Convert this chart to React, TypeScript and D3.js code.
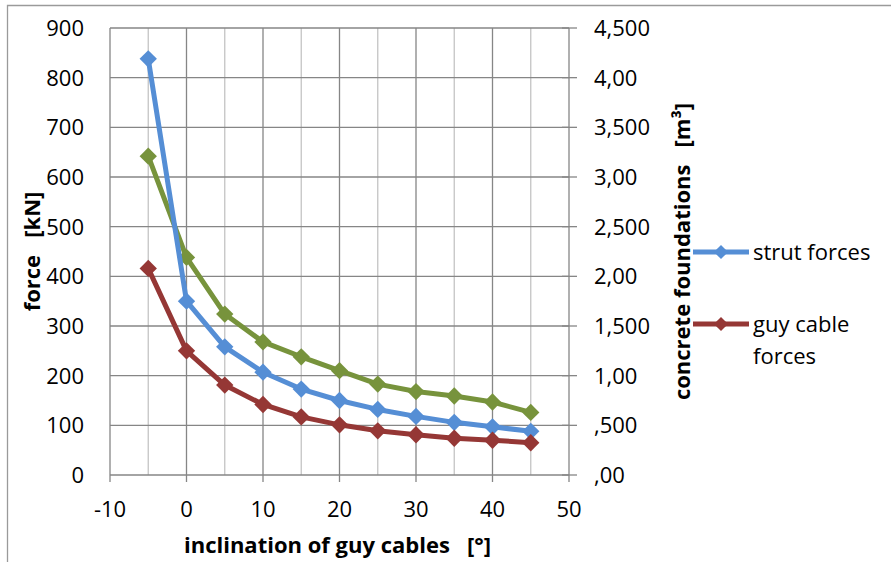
import { useMemo } from "react";
import * as d3 from "d3";

// inclination of guy cables [°]
const inclinations = [-5, 0, 5, 10, 15, 20, 25, 30, 35, 40, 45];
// left axis, force [kN]
const strutForces = [838, 350, 258, 207, 173, 150, 132, 118, 106, 97, 88];
const guyCableForces = [416, 250, 181, 142, 117, 101, 89, 81, 74, 70, 65];
// right axis, concrete foundations [m³]
const concreteVolumes = [3.21, 2.19, 1.62, 1.34, 1.19, 1.05, 0.915, 0.84, 0.795, 0.735, 0.63];

const xTicks = [-10, 0, 10, 20, 30, 40, 50];
const xMinorTicks = [-5, 5, 15, 25, 35, 45];
const leftTicks = [0, 100, 200, 300, 400, 500, 600, 700, 800, 900];
const rightTicks = [0, 0.5, 1, 1.5, 2, 2.5, 3, 3.5, 4, 4.5];
const rightTickLabels = [",00", ",500", "1,00", "1,500", "2,00", "2,500", "3,00", "3,500", "4,00", "4,500"];

const FONT = "'Open Sans', sans-serif";
const gridDark = "#868686";
const gridLight = "#c4c4c4";

export default function App() {
  const width = 891;
  const height = 562;
  const plot = { left: 110, right: 569, top: 28, bottom: 475 };

  const x = useMemo(() => d3.scaleLinear().domain([-10, 50]).range([plot.left, plot.right]), []);
  const yLeft = useMemo(() => d3.scaleLinear().domain([0, 900]).range([plot.bottom, plot.top]), []);
  const yRight = useMemo(() => d3.scaleLinear().domain([0, 4.5]).range([plot.bottom, plot.top]), []);

  const series = [
    { name: "concrete", color: "#77933c", values: concreteVolumes, y: yRight },
    { name: "strut forces", color: "#558ed5", values: strutForces, y: yLeft },
    { name: "guy cable forces", color: "#953735", values: guyCableForces, y: yLeft },
  ];

  const diamond = d3.symbol(d3.symbolSquare, 150)()!;
  const legendDiamond = d3.symbol(d3.symbolSquare, 100)()!;

  const legend = [
    { label: ["strut forces"], color: "#558ed5", y: 252 },
    { label: ["guy cable", "forces"], color: "#953735", y: 324 },
  ];

  return (
    <svg
      width={width}
      height={height}
      viewBox={`0 0 ${width} ${height}`}
      style={{ position: "absolute", left: 0, top: 0, background: "#fff" }}
      fontFamily={FONT}
    >
      <rect x={0} y={0} width={width} height={height} fill="#fff" />
      <path d={`M7.5,${height} V5.5 H${width}`} fill="none" stroke="#9a9a9a" strokeWidth={1.3} />

      {/* grid */}
      {xMinorTicks.map((t) => (
        <line key={`vm${t}`} x1={x(t)} x2={x(t)} y1={plot.top} y2={plot.bottom} stroke={gridLight} strokeWidth={1.3} />
      ))}
      {xTicks.map((t) => (
        <line key={`vx${t}`} x1={x(t)} x2={x(t)} y1={plot.top} y2={plot.bottom + 7} stroke={gridDark} strokeWidth={1.3} />
      ))}
      {leftTicks.map((t) => (
        <line key={`h${t}`} x1={plot.left} x2={plot.right} y1={yLeft(t)} y2={yLeft(t)} stroke={gridDark} strokeWidth={1.3} />
      ))}
      {rightTicks.map((t) => (
        <line key={`rt${t}`} x1={plot.right - 7} x2={plot.right + 8} y1={yRight(t)} y2={yRight(t)} stroke={gridDark} strokeWidth={1.3} />
      ))}

      {/* tick labels */}
      {leftTicks.map((t) => (
        <text key={`lt${t}`} x={84} y={yLeft(t)} dy="0.36em" textAnchor="end" fontSize={22} fill="#000">
          {t}
        </text>
      ))}
      {rightTicks.map((t, i) => (
        <text key={`rl${t}`} x={594} y={yRight(t)} dy="0.36em" textAnchor="start" fontSize={22} fill="#000">
          {rightTickLabels[i]}
        </text>
      ))}
      {xTicks.map((t) => (
        <text key={`xl${t}`} x={x(t)} y={517} textAnchor="middle" fontSize={22} fill="#000">
          {t}
        </text>
      ))}

      {/* axis titles */}
      <text x={(plot.left + plot.right) / 2 - 2} y={553} textAnchor="middle" fontSize={22} fontWeight="bold" xmlSpace="preserve">
        {"inclination of guy cables   [°]"}
      </text>
      <text
        transform={`translate(40,${(plot.top + plot.bottom) / 2}) rotate(-90)`}
        textAnchor="middle"
        fontSize={22}
        fontWeight="bold"
        xmlSpace="preserve"
      >
        {"force   [kN]"}
      </text>
      <text
        transform={`translate(690,${(plot.top + plot.bottom) / 2}) rotate(-90)`}
        textAnchor="middle"
        fontSize={22}
        fontWeight="bold"
        xmlSpace="preserve"
      >
        {"concrete foundations   [m³]"}
      </text>

      {/* series */}
      {series.map((s) => {
        const line = d3
          .line<number>()
          .x((_, i) => x(inclinations[i]))
          .y((v) => s.y(v));
        return (
          <g key={s.name}>
            <path d={line(s.values)!} fill="none" stroke={s.color} strokeWidth={5} strokeLinejoin="round" />
            {s.values.map((v, i) => (
              <path
                key={i}
                d={diamond}
                transform={`translate(${x(inclinations[i])},${s.y(v)}) rotate(45)`}
                fill={s.color}
              />
            ))}
          </g>
        );
      })}

      {/* legend */}
      {legend.map((l) => (
        <g key={l.label.join(" ")}>
          <line x1={693} x2={749} y1={l.y} y2={l.y} stroke={l.color} strokeWidth={5} />
          <path d={legendDiamond} transform={`translate(721,${l.y}) rotate(45)`} fill={l.color} />
          {l.label.map((line, i) => (
            <text key={line} x={753} y={l.y + 8 + i * 32} fontSize={22} fill="#000">
              {line}
            </text>
          ))}
        </g>
      ))}
    </svg>
  );
}
